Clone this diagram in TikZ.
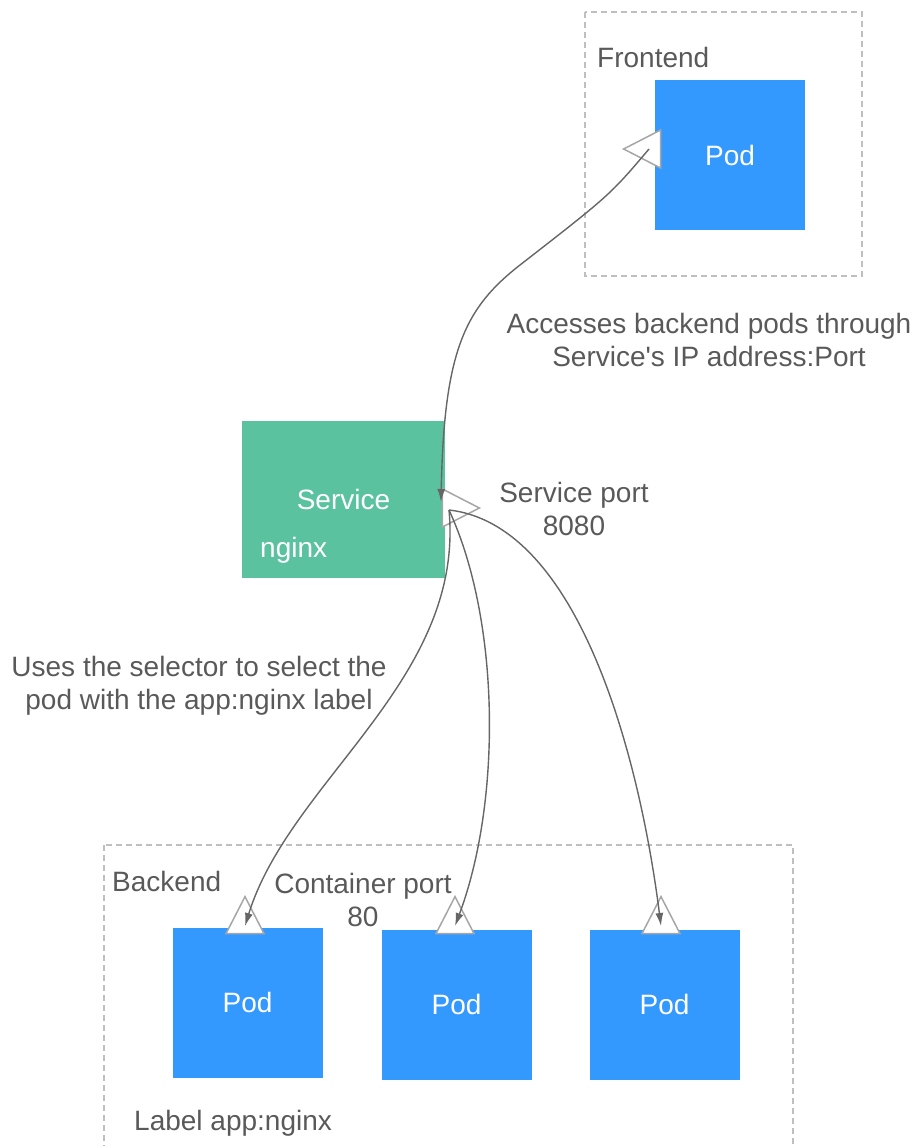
\documentclass[tikz,border=0pt]{standalone}
\usepackage{fontspec}
\setmainfont{Liberation Sans}[Ligatures=TeXOff]
\usepackage{xcolor}
\usetikzlibrary{shapes.geometric,arrows.meta}

\definecolor{podblue}{HTML}{3399FF}
\definecolor{svcgreen}{HTML}{5BC2A0}
\definecolor{txtgray}{HTML}{595959}
\definecolor{wiregray}{HTML}{666666}
\definecolor{boxgray}{HTML}{BFBFBF}
\definecolor{portgray}{HTML}{A6A6A6}

\tikzset{
  every node/.style={font=\fontsize{28}{33}\selectfont, text=txtgray},
  pod/.style={fill=podblue, minimum width=150pt, minimum height=150pt, inner sep=0pt, text=white},
  service/.style={fill=svcgreen, minimum width=203pt, minimum height=157pt, inner sep=0pt, text=white},
  port/.style={isosceles triangle, isosceles triangle stretches, draw=portgray, fill=white,
    line width=1.5pt, minimum width=38pt, minimum height=37pt, inner sep=0pt},
  group/.style={draw=boxgray, dash pattern=on 6pt off 4pt, line width=1.3pt},
  link/.style={draw=wiregray, line width=1.4pt, -{Latex[length=13pt,width=8pt]}},
  note/.style={align=center, inner sep=0pt}
}

\begin{document}
\begin{tikzpicture}[x=1pt,y=-1pt]
    \useasboundingbox (0,0) rectangle (918,1146);
    \clip (0,0) rectangle (918,1146);

    %% Dashed groups
    \draw [group] (585,12) rectangle (862,276);
    \draw [group] (104,845) rectangle (793,1180);
    \node [anchor=west, inner sep=0pt] (frontend) at (597,57) {Frontend};
    \node [anchor=west, inner sep=0pt] (backend) at (112,881) {Backend};

    %% Pods and the service
    \node [pod] (fpod) at (730,155) {Pod};
    \node [service] (svc) at (343.5,499.5) {Service};
    \node [anchor=west, inner sep=0pt, text=white] (svcname) at (260,550) {nginx};
    \node [pod] (bpod1) at (247.5,1002.5) {Pod};
    \node [pod] (bpod2) at (456.5,1004.5) {Pod};
    \node [pod] (bpod3) at (664.5,1004.5) {Pod};

    %% Ports
    \node [port, shape border rotate=180] (fport) at (649,149) {};
    \node [port, shape border rotate=0] (sport) at (454,508) {};
    \node [port, shape border rotate=90] (bport1) at (245,922) {};
    \node [port, shape border rotate=90] (bport2) at (455,922) {};
    \node [port, shape border rotate=90] (bport3) at (661,922) {};

    %% Curves
    \draw [link] (fport.center) .. controls (610,195) .. (520,265)
        .. controls (465,308) and (444,350) .. ([shift={(-13,-6)}]sport.center);
    \draw [link] ([shift={(-5,2)}]sport.center) .. controls (465,680) and (290,780) .. ([shift={(0,4)}]bport1.center);
    \draw [link] ([shift={(-5,2)}]sport.center) .. controls (500,620) and (502,800) .. ([shift={(0,4)}]bport2.center);
    \draw [link] ([shift={(-5,2)}]sport.center) .. controls (580,525) and (640,760) .. ([shift={(0,4)}]bport3.center);

    %% Labels
    \node [note] (access) at (709,340) {Accesses backend pods through\\Service's IP address:Port};
    \node [note] (svcport) at (574,509) {Service port\\8080};
    \node [note] (selector) at (199,686) {Uses the selector to select the\\pod with the app:nginx label};
    \node [note] (ctrport) at (363,900) {Container port\\80};
    \node [anchor=west, inner sep=0pt] (podlabel) at (134,1123) {Label app:nginx};
\end{tikzpicture}
\end{document}
